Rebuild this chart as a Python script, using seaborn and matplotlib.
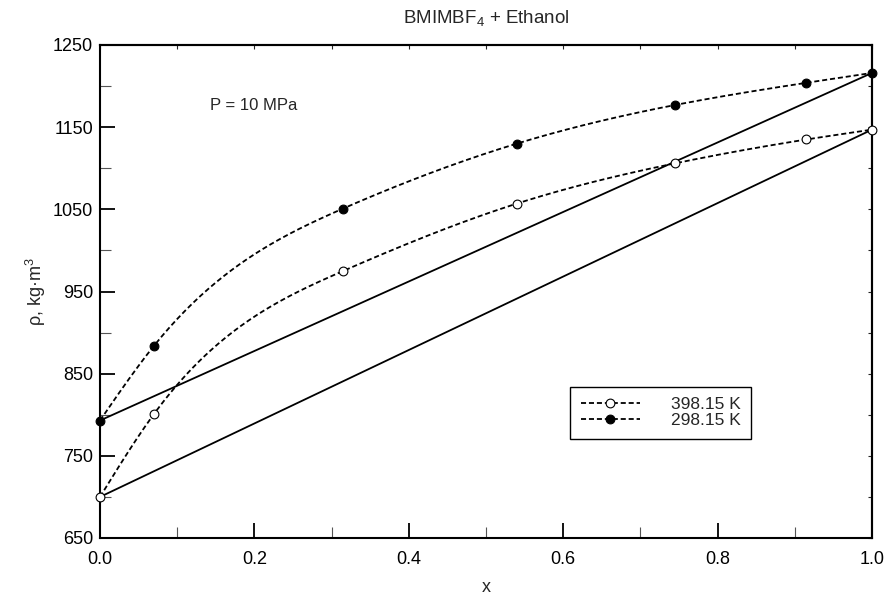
import numpy as np
import pandas as pd
import matplotlib
matplotlib.use("Agg")
import matplotlib.pyplot as plt
from matplotlib.lines import Line2D
import seaborn as sns

# ---- data ----
x_frac = [0.0, 0.07, 0.315, 0.54, 0.745, 0.915, 1.0]
rho_398 = [700, 801, 975, 1057, 1106, 1135, 1147]
rho_298 = [793, 884, 1051, 1130, 1177, 1204, 1216]
labels = ["398.15 K", "298.15 K"]
x_ticks = [0.0, 0.2, 0.4, 0.6, 0.8, 1.0]
y_ticks = [650, 750, 850, 950, 1050, 1150, 1250]

sns.set_style("ticks")
plt.rcParams["font.family"] = ["Liberation Sans", "DejaVu Sans"]
plt.rcParams["mathtext.fontset"] = "custom"
plt.rcParams["mathtext.rm"] = "Liberation Sans"
plt.rcParams["mathtext.it"] = "Liberation Sans:italic"
plt.rcParams["mathtext.bf"] = "Liberation Sans:bold"


def natural_spline(x, y, xs):
    x = np.asarray(x, float)
    y = np.asarray(y, float)
    n = len(x)
    h = np.diff(x)
    A = np.zeros((n, n))
    b = np.zeros(n)
    A[0, 0] = 1
    A[-1, -1] = 1
    for i in range(1, n - 1):
        A[i, i - 1] = h[i - 1]
        A[i, i] = 2 * (h[i - 1] + h[i])
        A[i, i + 1] = h[i]
        b[i] = 3 * ((y[i + 1] - y[i]) / h[i] - (y[i] - y[i - 1]) / h[i - 1])
    c = np.linalg.solve(A, b)
    bb = (y[1:] - y[:-1]) / h - h * (2 * c[:-1] + c[1:]) / 3
    d = (c[1:] - c[:-1]) / (3 * h)
    idx = np.clip(np.searchsorted(x, xs) - 1, 0, n - 2)
    dx = xs - x[idx]
    return y[idx] + bb[idx] * dx + c[idx] * dx ** 2 + d[idx] * dx ** 3


fig = plt.figure(figsize=(8.91, 6.01), dpi=100)
ax = fig.add_axes([100 / 891, 1 - 538 / 601, 772 / 891, 493 / 601])

dash = (0, (2.8, 1.6))
xs = np.linspace(0, 1, 400)
for rho, face in [(rho_398, "white"), (rho_298, "black")]:
    ys = natural_spline(x_frac, rho, xs)
    sns.lineplot(x=xs, y=ys, ax=ax, color="black", lw=1.3, linestyle=dash)
    # straight ideal-mixing line between pure-component densities
    sns.lineplot(x=[x_frac[0], x_frac[-1]], y=[rho[0], rho[-1]], ax=ax,
                 color="black", lw=1.3)
    sns.scatterplot(x=x_frac, y=rho, ax=ax, s=40, color=face,
                    edgecolor="black", linewidth=0.8, zorder=5, clip_on=False)

ax.set_xlim(0, 1)
ax.set_ylim(650, 1250)
ax.set_xticks(x_ticks)
ax.set_xticklabels([f"{t:.1f}" for t in x_ticks])
ax.set_xticks(np.arange(0.1, 1.0, 0.2), minor=True)
ax.set_yticks(y_ticks)
ax.set_yticklabels([str(t) for t in y_ticks])
ax.set_yticks(np.arange(700, 1250, 100), minor=True)

for s in ax.spines.values():
    s.set_linewidth(1.5)
    s.set_color("black")
ax.tick_params(which="major", direction="in", length=11, width=1.3,
               colors="black", labelsize=13)
ax.tick_params(axis="x", which="major", pad=9)
ax.tick_params(axis="y", which="major", pad=5)
ax.tick_params(which="minor", direction="in", length=8, width=0.8,
               color="#555555")

secx = ax.secondary_xaxis("top")
secx.set_xticks(np.arange(0, 1.01, 0.1))
secx.set_xticklabels([])
secx.tick_params(direction="in", length=3, width=0.8)
secx.spines["top"].set_linewidth(1.5)
secy = ax.secondary_yaxis("right")
secy.set_yticks(np.arange(650, 1251, 50))
secy.set_yticklabels([])
secy.tick_params(direction="in", length=3, width=0.8)
secy.spines["right"].set_linewidth(1.5)

ax.set_xlabel("x", fontsize=13)
ax.set_ylabel("ρ, kg·m$^{3}$", fontsize=13)
ax.xaxis.set_label_coords(0.5, -0.084)
ax.yaxis.set_label_coords(-0.068, 0.5)

fig.text(486 / 891, 1 - 23.3 / 601, "BMIMBF$_4$ + Ethanol", fontsize=13.5,
         ha="center", va="baseline")
ax.text(0.1425, 1171, "P = 10 MPa", fontsize=12, ha="left", va="baseline")

handles = [
    Line2D([], [], color="black", lw=1.3, linestyle=dash, marker="o",
           markersize=6.3, markerfacecolor="white", markeredgecolor="black",
           markeredgewidth=0.8),
    Line2D([], [], color="black", lw=1.3, linestyle=dash, marker="o",
           markersize=6.3, markerfacecolor="black", markeredgecolor="black",
           markeredgewidth=0.8),
]
leg = ax.legend(handles, labels, loc="upper left",
                bbox_to_anchor=(0.609, 0.307), borderaxespad=0,
                fontsize=12.5, handlelength=3.4, handletextpad=1.8,
                borderpad=0.6, labelspacing=0.05, fancybox=False,
                framealpha=1, edgecolor="black")
leg.get_frame().set_linewidth(1.0)

fig.savefig("out.png", dpi=100)
